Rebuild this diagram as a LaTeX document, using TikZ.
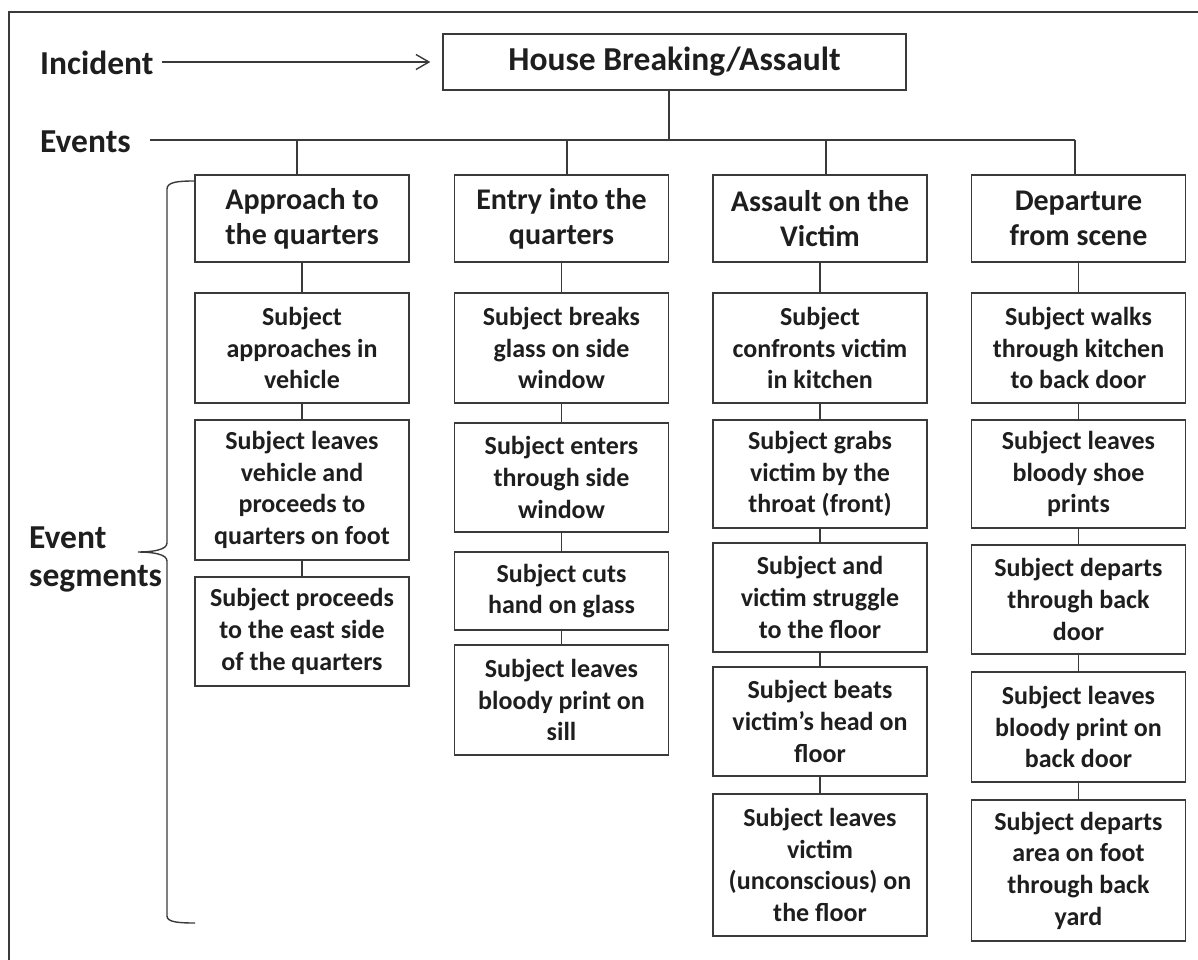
\documentclass[tikz,border=0pt]{standalone}
\usepackage{fontspec}
\setmainfont{Carlito}
\usetikzlibrary{arrows.meta}
\definecolor{ink}{HTML}{1E1E1E}
\definecolor{edge}{HTML}{3A3A3A}
\begin{document}
\begin{tikzpicture}[x=1pt,y=-1pt,
  label/.style={text=ink, inner sep=0pt, font=\bfseries\fontsize{33.5}{40}\selectfont},
  topbox/.style={draw=edge, line width=1.3pt, inner sep=0pt, text=ink,
    minimum width=463pt, minimum height=56pt, font=\bfseries\fontsize{33.5}{40}\selectfont},
  headbox/.style={draw=edge, line width=1.3pt, inner sep=0pt, text=ink, align=center,
    minimum width=214pt, minimum height=87pt, font=\bfseries\fontsize{30}{35}\selectfont},
  box/.style={draw=edge, line width=1.3pt, inner sep=0pt, text=ink, align=center,
    minimum width=214pt, font=\bfseries\fontsize{26}{31.7}\selectfont},
  link/.style={draw=edge, line width=1.2pt},
  frame/.style={draw=edge, line width=2.4pt},
  brace/.style={draw=edge, line width=1.4pt},
  barb/.style={link, line width=1.4pt, -{Straight Barb[length=13pt, width=15pt, line width=1.4pt]}}
]
\useasboundingbox (0,0) rectangle (1198,960);

% outer frame (top and left sides)
\draw[frame] (9,962) -- (9,12) -- (1200,12);

% side labels
\node[label, anchor=base west] (inc) at (40,75) {Incident};
\node[label, anchor=base west] (evt) at (40,153) {Events};
\node[label, anchor=base west] (seg1) at (29,548) {Event};
\node[label, anchor=base west] (seg2) at (29,586) {segments};

% incident
\node[topbox] (top) at (674.5,62) {House Breaking/Assault};
\draw[barb, shorten <=8pt, shorten >=12pt] (inc.east |- top.west) -- (top.west);

% events bus
\coordinate (busL) at (150,140);
\coordinate (busR) at (1075,140);
\coordinate (stem) at (669,140);
\coordinate (j1) at (297,140);
\coordinate (j2) at (567,140);
\coordinate (j3) at (826,140);
\coordinate (j4) at (1075,140);
\draw[link] (busL) -- (busR);
\draw[link] (top.south -| stem) -- (stem);

% event headers
\node[headbox] (H1) at (302,218.5) {Approach to\\the quarters};
\node[headbox] (H2) at (561.5,218.5) {Entry into the\\quarters};
\node[headbox] (H3) at (820,218.5) {Assault on the\\Victim};
\node[headbox] (H4) at (1078.5,218.5) {Departure\\from scene};
\foreach \j/\h in {j1/H1, j2/H2, j3/H3, j4/H4}
  \draw[link] (\j) -- (\j |- \h.north);

% approach to the quarters
\node[box, minimum height=110pt] (A1) at (302,348) {Subject\\approaches in\\vehicle};
\node[box, minimum height=140pt] (A2) at (302,490) {Subject leaves\\vehicle and\\proceeds to\\quarters on foot};
\node[box, minimum height=109pt] (A3) at (302,631.5) {Subject proceeds\\to the east side\\of the quarters};

% entry into the quarters
\node[box, minimum height=110pt] (B1) at (561.5,348) {Subject breaks\\glass on side\\window};
\node[box, minimum height=109pt] (B2) at (561.5,477.5) {Subject enters\\through side\\window};
\node[box, minimum height=78pt] (B3) at (561.5,591) {Subject cuts\\hand on glass};
\node[box, minimum height=110pt] (B4) at (561.5,700) {Subject leaves\\bloody print on\\sill};

% assault on the victim
\node[box, minimum height=110pt] (C1) at (820,348) {Subject\\confronts victim\\in kitchen};
\node[box, minimum height=108pt] (C2) at (820,474) {Subject grabs\\victim by the\\throat (front)};
\node[box, minimum height=109pt] (C3) at (820,597.5) {Subject and\\victim struggle\\to the floor};
\node[box, minimum height=109pt] (C4) at (820,721.5) {Subject beats\\victim’s head on\\floor};
\node[box, minimum height=142pt] (C5) at (820,865) {Subject leaves\\victim\\(unconscious) on\\the floor};

% departure from scene
\node[box, minimum height=110pt] (D1) at (1078.5,348) {Subject walks\\through kitchen\\to back door};
\node[box, minimum height=108pt] (D2) at (1078.5,474) {Subject leaves\\bloody shoe\\prints};
\node[box, minimum height=109pt] (D3) at (1078.5,599.5) {Subject departs\\through back\\door};
\node[box, minimum height=110pt] (D4) at (1078.5,727) {Subject leaves\\bloody print on\\back door};
\node[box, minimum height=141pt] (D5) at (1078.5,870.5) {Subject departs\\area on foot\\through back\\yard};

% chains inside each event
\foreach \a/\b in {H1/A1, A1/A2, A2/A3,
                   H2/B1, B1/B2, B2/B3, B3/B4,
                   H3/C1, C1/C2, C2/C3, C3/C4, C4/C5,
                   H4/D1, D1/D2, D2/D3, D3/D4, D4/D5}
  \draw[link] (\a.south) -- (\b.north);

% brace grouping the event segments
\coordinate (bTop) at (H1.north west |- 0,181);
\coordinate (bTip) at (138,552);
\coordinate (bBot) at (195,923);
\draw[brace] (bTop) .. controls (178,181) and (167,182) .. (167,189)
  -- (167,543) .. controls (167,550) and (152,552) .. (bTip)
  .. controls (152,552) and (167,554) .. (167,561)
  -- (167,916) .. controls (167,922) and (178,923) .. (bBot);
\end{tikzpicture}
\end{document}
